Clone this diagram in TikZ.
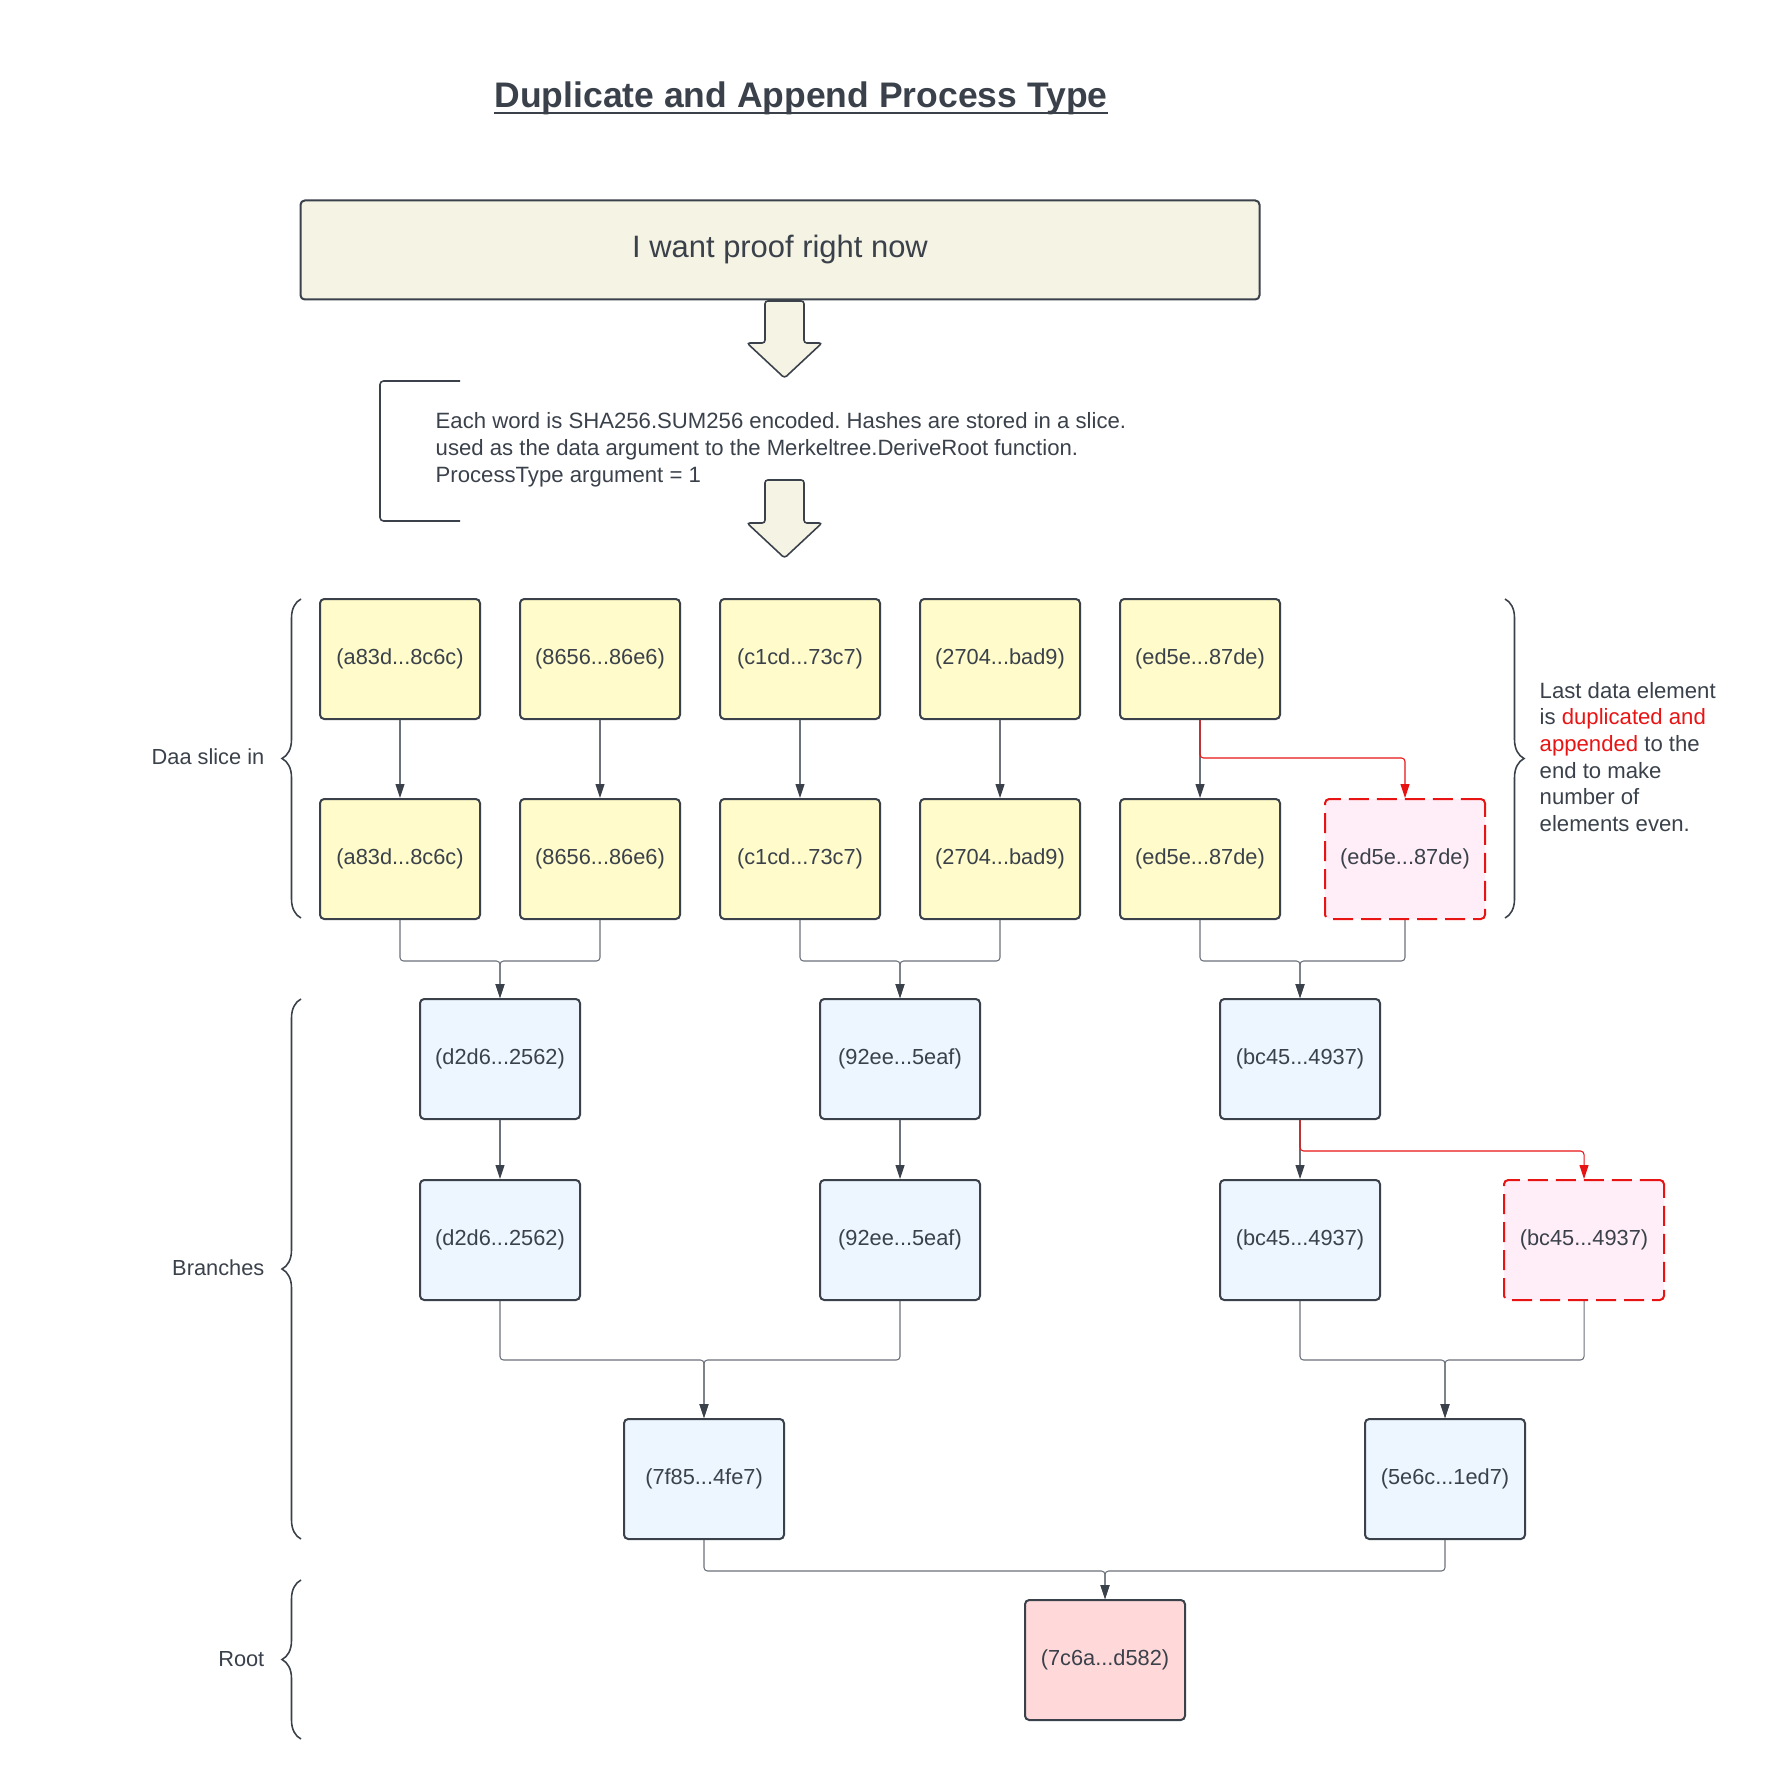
\documentclass[tikz,border=0pt]{standalone}
\usepackage{fontspec}
\setmainfont{Liberation Sans}
\usetikzlibrary{arrows.meta,decorations.pathreplacing}

\definecolor{ink}{HTML}{3A414A}
\definecolor{wire}{HTML}{6B717B}
\definecolor{alert}{HTML}{E81313}
\definecolor{leafy}{HTML}{FFFBCA}
\definecolor{sky}{HTML}{EDF5FF}
\definecolor{blush}{HTML}{FFEEF8}
\definecolor{rose}{HTML}{FFD9DA}
\definecolor{cream}{HTML}{F5F3E3}

\frenchspacing

\begin{document}
\begin{tikzpicture}[x=0.1mm,y=-0.1mm,text=ink,font=\fontsize{6.2}{7.6}\selectfont]
		\tikzstyle{hash}=[draw=ink,line width=0.57pt,rounded corners=1.2pt,minimum width=16mm,minimum height=12mm,inner sep=0pt]
		\tikzstyle{leaf}=[hash,fill=leafy]
		\tikzstyle{branch}=[hash,fill=sky]
		\tikzstyle{dup}=[hash,draw=alert,fill=blush,dash pattern=on 2mm off 0.8mm]
		\tikzstyle{root}=[hash,fill=rose]
		\tikzstyle{link}=[draw=wire,line width=0.3pt,rounded corners=1pt,-{Triangle[length=1.4mm,width=0.9mm,color=ink]}]
		\tikzstyle{duplink}=[link,draw=alert,-{Triangle[length=1.4mm,width=0.9mm,color=alert]}]
		\tikzstyle{bigarrow}=[draw=ink,fill=cream,line width=0.45pt,rounded corners=0.8pt]
		\tikzstyle{brace}=[draw=ink,line width=0.45pt,decorate,decoration={brace,amplitude=1.9mm}]
		\tikzstyle{side}=[anchor=east,inner sep=0pt]

		\useasboundingbox (0,0) rectangle (1780,1780);

		\node[anchor=base,inner sep=0pt,font=\fontsize{10.1}{12}\selectfont\bfseries] (title) at (801,108) {Duplicate and Append Process Type};
		\draw[draw=ink,line width=0.6pt] ([yshift=-0.5mm]title.base west) -- ([yshift=-0.5mm]title.base east);
		\node[draw=ink,fill=cream,line width=0.57pt,rounded corners=1.2pt,minimum width=95.9mm,minimum height=9.9mm,font=\fontsize{8.8}{10}\selectfont] (want) at (780,250) {I want proof right now};

		\draw[bigarrow] (765,301) -- (804,301) -- (804,343) -- (822,343) -- (784.5,378) -- (747,343) -- (765,343) -- cycle;
		\draw[bigarrow] (765,480) -- (804,480) -- (804,523) -- (822,523) -- (784.5,558) -- (747,523) -- (765,523) -- cycle;

		\draw[draw=ink,line width=0.45pt,rounded corners=1pt] (460,381) -- (380,381) -- (380,521) -- (460,521);
		\node[anchor=west,align=left,inner sep=0pt,font=\fontsize{6.3}{7.65}\selectfont] (note) at (435,450) {Each word is SHA256.SUM256 encoded. Hashes are stored in a slice.\\used as the data argument to the Merkeltree.DeriveRoot function.\\ProcessType argument = 1};

		% data slice
		\node[leaf] (a1) at (400,659) {(a83d...8c6c)};
		\node[leaf] (a2) at (600,659) {(8656...86e6)};
		\node[leaf] (a3) at (800,659) {(c1cd...73c7)};
		\node[leaf] (a4) at (1000,659) {(2704...bad9)};
		\node[leaf] (a5) at (1200,659) {(ed5e...87de)};

		\node[leaf] (b1) at (400,859) {(a83d...8c6c)};
		\node[leaf] (b2) at (600,859) {(8656...86e6)};
		\node[leaf] (b3) at (800,859) {(c1cd...73c7)};
		\node[leaf] (b4) at (1000,859) {(2704...bad9)};
		\node[leaf] (b5) at (1200,859) {(ed5e...87de)};
		\node[dup] (b6) at (1405,859) {(ed5e...87de)};

		% branches
		\node[branch] (c1) at (500,1059) {(d2d6...2562)};
		\node[branch] (c2) at (900,1059) {(92ee...5eaf)};
		\node[branch] (c3) at (1300,1059) {(bc45...4937)};

		\node[branch] (d1) at (500,1240) {(d2d6...2562)};
		\node[branch] (d2) at (900,1240) {(92ee...5eaf)};
		\node[branch] (d3) at (1300,1240) {(bc45...4937)};
		\node[dup] (d4) at (1584,1240) {(bc45...4937)};

		\node[branch] (e1) at (704,1479) {(7f85...4fe7)};
		\node[branch] (e2) at (1445,1479) {(5e6c...1ed7)};

		\node[root] (r) at (1105,1660) {(7c6a...d582)};

		\draw[link] (a1) -- (b1);
		\draw[link] (a2) -- (b2);
		\draw[link] (a3) -- (b3);
		\draw[link] (a4) -- (b4);
		\draw[link] (a5) -- (b5);
		\draw[duplink] (a5.south) -- ++(0,38) -| (b6.north);

		\draw[link] (b1.south) -- ++(0,41) -| (c1.north);
		\draw[link] (b2.south) -- ++(0,41) -| (c1.north);
		\draw[link] (b3.south) -- ++(0,41) -| (c2.north);
		\draw[link] (b4.south) -- ++(0,41) -| (c2.north);
		\draw[link] (b5.south) -- ++(0,41) -| (c3.north);
		\draw[link] (b6.south) -- ++(0,41) -| (c3.north);

		\draw[link] (c1) -- (d1);
		\draw[link] (c2) -- (d2);
		\draw[link] (c3) -- (d3);
		\draw[duplink] (c3.south) -- ++(0,31) -| (d4.north);

		\draw[link] (d1.south) -- ++(0,59) -| (e1.north);
		\draw[link] (d2.south) -- ++(0,59) -| (e1.north);
		\draw[link] (d3.south) -- ++(0,59) -| (e2.north);
		\draw[link] (d4.south) -- ++(0,59) -| (e2.north);

		\draw[link] (e1.south) -- ++(0,31) -| (r.north);
		\draw[link] (e2.south) -- ++(0,31) -| (r.north);

		% braces and their notes
		\draw[brace] (301,918) -- (301,599);
		\draw[brace] (301,1539) -- (301,999);
		\draw[brace] (301,1739) -- (301,1580);
		\draw[brace] (1505,599) -- (1505,918);

		\node[side] (slice) at (265,757) {Daa slice in};
		\node[side] (branches) at (265,1268) {Branches};
		\node[side] (rootnote) at (265,1659) {Root};
		\node[anchor=west,align=left,inner sep=0pt,font=\fontsize{6.3}{7.6}\selectfont] (even) at (1539,757) {Last data element\\is {\color{alert}duplicated and}\\{\color{alert}appended} to the\\end to make\\number of\\elements even.};
\end{tikzpicture}
\end{document}
